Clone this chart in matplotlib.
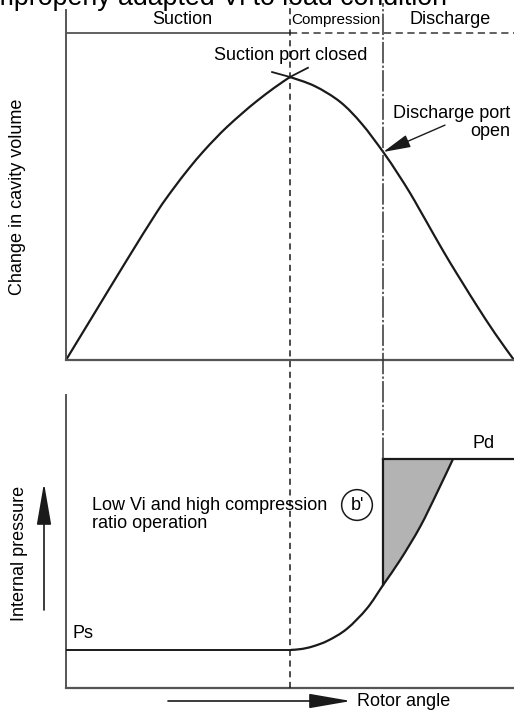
import matplotlib.pyplot as plt
import matplotlib
import numpy as np
from matplotlib.patches import FancyArrowPatch, PathPatch
from matplotlib.path import Path

matplotlib.rcParams["font.family"] = ["Liberation Sans", "DejaVu Sans"]
matplotlib.rcParams["font.size"] = 13

# rotor angle (0-100)
suction_close = 50.0
discharge_open = 70.8

# change in cavity volume (0-1)
vol_x = [0, 6.0, 13.5, 20.3, 23.9, 27.5, 30.6, 33.5, 35.9, 39.5, 42.6, 46.5, 50.0,
         55.5, 61.2, 66.0, 70.8, 74.0, 76.8, 78.8, 80.6, 83.0, 85.7, 88.7, 91.7, 95.8, 100]
vol_y = [0, 0.156, 0.351, 0.523, 0.604, 0.678, 0.736, 0.785, 0.823, 0.874, 0.915, 0.962, 1.0,
         0.968, 0.912, 0.835, 0.735, 0.660, 0.590, 0.535, 0.485, 0.418, 0.345, 0.268, 0.192, 0.093, 0]

# internal pressure (arbitrary units)
Ps = 1.30
Pd = 7.82
comp_x = [50.2, 52.5, 55.1, 58.5, 62.7, 67.2, 70.8, 74.6, 79.0, 82.8, 86.4]
comp_p = [1.30, 1.33, 1.42, 1.62, 2.02, 2.72, 3.52, 4.37, 5.49, 6.66, 7.82]

W, H = 514, 712
fig = plt.figure(figsize=(W / 100, H / 100), dpi=100)

def fx(x):
    return x / W

def fy(y):
    return 1 - y / H

def smooth_path(xs, ys):
    # catmull-rom through the read points, drawn as bezier segments
    p = np.column_stack([xs, ys]).astype(float)
    verts = [p[0]]
    codes = [Path.MOVETO]
    for i in range(len(p) - 1):
        p0 = p[i - 1] if i > 0 else p[i]
        p3 = p[i + 2] if i + 2 < len(p) else p[i + 1]
        c1 = p[i] + (p[i + 1] - p0) / 6
        c2 = p[i + 1] - (p3 - p[i]) / 6
        verts += [c1, c2, p[i + 1]]
        codes += [Path.CURVE4] * 3
    return Path(verts, codes)

line_c = "#1a1a1a"
spine_c = "#555555"

# ---- top panel: cavity volume
ax1 = fig.add_axes([fx(66), fy(360), 448 / W, 350 / H])
ax1.set_xlim(0, 100)
ax1.set_ylim(0, 350 / 283)
ax1.axis("off")
ax1.plot([0, 0], [0, 350 / 283], color=spine_c, lw=1.4, clip_on=False)
ax1.plot([0, 100], [0, 0], color=spine_c, lw=1.6, clip_on=False)
k = vol_x.index(suction_close)
for seg in (slice(0, k + 1), slice(k, None)):
    ax1.add_patch(PathPatch(smooth_path(vol_x[seg], vol_y[seg]), fc="none",
                            ec=line_c, lw=1.6, clip_on=False))

# little cross at the suction-port-closed point
for j in (k - 1, k + 1):
    d = vol_x[k] - vol_x[j]
    s = (vol_y[k] - vol_y[j]) / d
    xe = vol_x[k] + np.sign(d) * 4.0
    ax1.plot([vol_x[k], xe], [vol_y[k], vol_y[k] + s * (xe - vol_x[k]) * 0.75],
             color=line_c, lw=1.3)

band = 327 / 283
ax1.plot([0, suction_close], [band, band], color=spine_c, lw=1.3)
ax1.plot([suction_close, 100], [band, band], color=spine_c, lw=1.3,
         dashes=(4, 2.5), clip_on=False)

fig.text(fx(182), fy(20), "Suction", ha="center", va="center")
fig.text(fx(336), fy(20), "Compression", ha="center", va="center", fontsize=11,
         family=["Liberation Sans Narrow", "Liberation Sans", "DejaVu Sans"])
fig.text(fx(450), fy(20), "Discharge", ha="center", va="center")
fig.text(fx(291), fy(56), "Suction port closed", ha="center", va="center")
fig.text(fx(510), fy(113), "Discharge port", ha="right", va="center")
fig.text(fx(510), fy(132), "open", ha="right", va="center")
ax1.annotate("", xy=(discharge_open, vol_y[vol_x.index(discharge_open)]),
             xytext=(84.6, 0.83),
             arrowprops=dict(arrowstyle="-|>,head_length=17,head_width=4",
                             color=line_c, lw=1.0, mutation_scale=1,
                             shrinkA=0, shrinkB=0))
fig.text(fx(18), fy(197), "Change in cavity volume", rotation=90,
         ha="center", va="center")
# title is cut off at the top edge in the original, too
fig.text(fx(-16), fy(5), "Improperly adapted Vi to load condition",
         ha="left", va="baseline", fontsize=19.3)

# ---- bottom panel: internal pressure
ax2 = fig.add_axes([fx(66), fy(688), 448 / W, 293 / H])
ax2.set_xlim(0, 100)
ax2.set_ylim(0, 10)
ax2.axis("off")
ax2.plot([0, 0], [0, 10], color=spine_c, lw=1.4, clip_on=False)
ax2.plot([0, 100], [0, 0], color=spine_c, lw=1.6, clip_on=False)

i0 = comp_x.index(discharge_open)
fx_ = comp_x[i0:]
ax2.fill_between(fx_, comp_p[i0:], [Pd] * len(fx_), color="#b3b3b3", lw=0)
ax2.add_patch(PathPatch(smooth_path(comp_x[i0:], comp_p[i0:]), fc="#b3b3b3",
                        ec="none", lw=0))

ax2.plot([0, comp_x[0]], [Ps, Ps], color=line_c, lw=1.4)
ax2.add_patch(PathPatch(smooth_path(comp_x, comp_p), fc="none", ec=line_c, lw=1.6))
ax2.plot([discharge_open, 100], [Pd, Pd], color=line_c, lw=1.6, clip_on=False)
ax2.plot([discharge_open, discharge_open], [comp_p[i0], Pd], color=line_c, lw=1.6)

top = (688 - 3) / 29.3
ax2.plot([suction_close, suction_close], [0, top], color=line_c, lw=1.1,
         dashes=(4, 3), clip_on=False)
ax2.plot([discharge_open, discharge_open], [Pd, top], color="#333333", lw=1.1,
         dashes=(14, 1.5, 1.5, 1.5), clip_on=False)

fig.text(fx(92), fy(505), "Low Vi and high compression", ha="left", va="center")
fig.text(fx(92), fy(523), "ratio operation", ha="left", va="center")
fig.text(fx(357), fy(505), "b'", ha="center", va="center",
         bbox=dict(boxstyle="circle,pad=0.38", fc="white", ec=line_c, lw=1.1))
fig.text(fx(73), fy(634), "Ps", ha="left", va="center")
fig.text(fx(473), fy(443), "Pd", ha="left", va="center")
fig.text(fx(20), fy(553), "Internal pressure", rotation=90, ha="center", va="center")
fig.text(fx(357), fy(701), "Rotor angle", ha="left", va="center")

for a, b in [((44, 610), (44, 483)), ((168, 701), (351, 701))]:
    fig.patches.append(FancyArrowPatch(
        (fx(a[0]), fy(a[1])), (fx(b[0]), fy(b[1])), transform=fig.transFigure,
        arrowstyle="-|>,head_length=26,head_width=4.5", mutation_scale=1,
        color=line_c, lw=1.2, shrinkA=0, shrinkB=0))

fig.savefig("out.png", dpi=100, facecolor="white")
